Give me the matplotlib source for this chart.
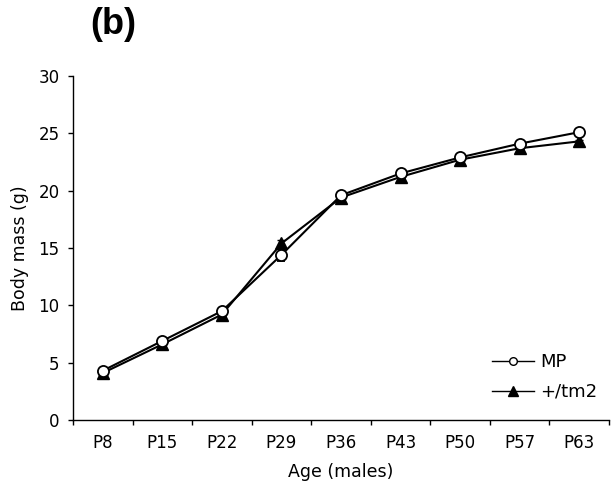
import matplotlib
matplotlib.use("Agg")
import matplotlib.pyplot as plt
from matplotlib.lines import Line2D
import numpy as np

ages = ["P8", "P15", "P22", "P29", "P36", "P43", "P50", "P57", "P63"]
mp = [4.3, 6.9, 9.5, 14.4, 19.6, 21.5, 22.9, 24.1, 25.1]
tm2 = [4.1, 6.6, 9.2, 15.4, 19.4, 21.2, 22.7, 23.7, 24.3]
mp_err = [0.1, 0.1, 0.1, 0.5, 0.1, 0.1, 0.1, 0.1, 0.1]
tm2_err = [0.1, 0.1, 0.1, 0.3, 0.1, 0.1, 0.1, 0.1, 0.1]

plt.rcParams['font.family'] = ['DejaVu Sans']
fig = plt.figure(figsize=(6.16, 4.92), dpi=100)
ax = fig.add_axes([73/616, 72/492, 536/616, 344/492])

x = np.arange(len(ages))
ax.errorbar(x, mp, yerr=mp_err, color='black', lw=1.5, marker='o', ms=8,
            mfc='white', mec='black', mew=1.3, capsize=3, elinewidth=1, zorder=3)
ax.errorbar(x, tm2, yerr=tm2_err, color='black', lw=1.5, marker='^', ms=9,
            mfc='black', mec='black', capsize=3, elinewidth=1, zorder=2)

ax.set_xlim(-0.5, len(ages) - 0.5)
ax.set_ylim(0, 30)
ax.set_yticks(range(0, 31, 5))
ax.set_xticks(x)
ax.set_xticklabels(ages)
ax.set_xticks(np.arange(-0.5, len(ages), 1.0), minor=True)
ax.tick_params(axis='x', which='major', length=0, pad=10, labelsize=12)
ax.tick_params(axis='x', which='minor', length=3.6, direction='out', width=1)
ax.tick_params(axis='y', length=3.6, direction='out', width=1, labelsize=12, pad=6)
for s in ['top', 'right']:
    ax.spines[s].set_visible(False)
for s in ['left', 'bottom']:
    ax.spines[s].set_linewidth(1)

ax.set_xlabel('Age (males)', fontsize=12.5, labelpad=8)
ax.set_ylabel('Body mass (g)', fontsize=12.5, labelpad=7)

handles = [
    Line2D([], [], color='black', lw=1.0, marker='o', ms=5.5, mfc='white', mec='black', mew=1.0),
    Line2D([], [], color='black', lw=1.0, marker='^', ms=7.5, mfc='black', mec='black'),
]
fig.legend(handles, ['MP', '+/tm2'], loc='lower right',
           bbox_to_anchor=(597/616, 91/492), frameon=False, borderpad=0, borderaxespad=0,
           fontsize=13, handlelength=2.3, handletextpad=0.35, labelspacing=0.65)

fig.text(90/616, 1 - 25/492, '(b)', fontsize=26, fontweight='bold',
         family='Liberation Sans', ha='left', va='center')

fig.savefig('out.png', dpi=100)
